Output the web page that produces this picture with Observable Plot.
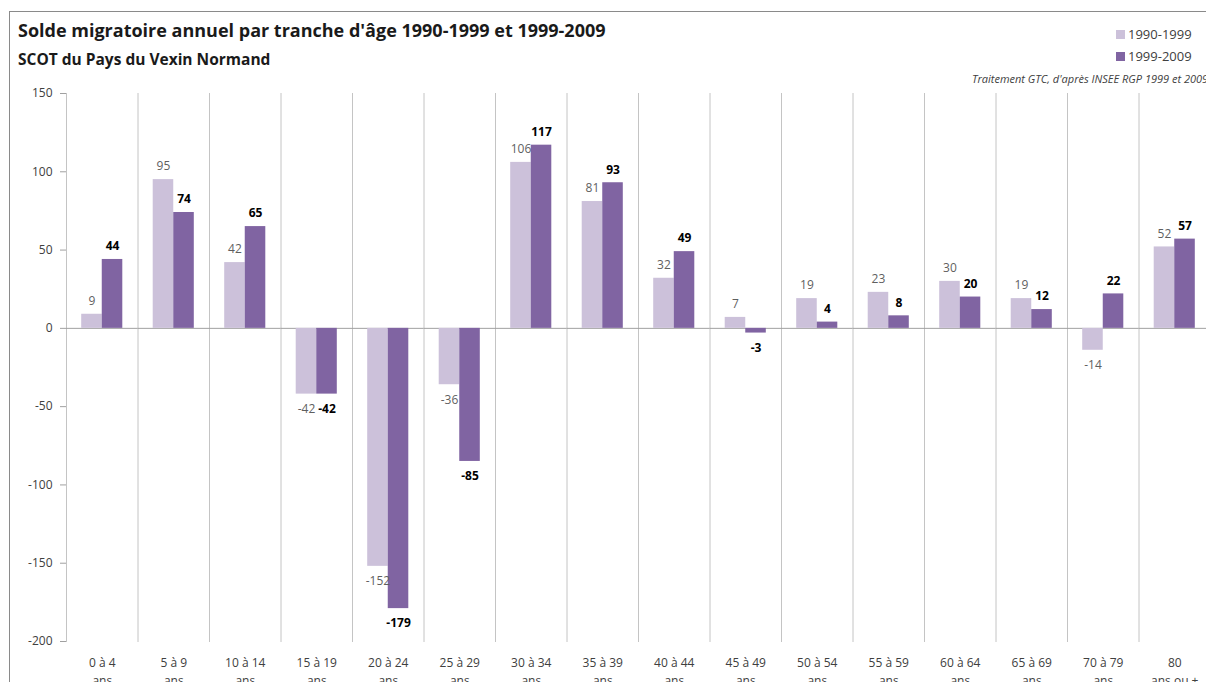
<!DOCTYPE html>
<html>
<head>
<meta charset="utf-8">
<script src="https://cdn.jsdelivr.net/npm/d3@7"></script>
<script src="https://cdn.jsdelivr.net/npm/@observablehq/plot@0.6"></script>
<style>
  html, body { margin: 0; padding: 0; background: #fff; overflow: hidden; }
  #wrap { position: relative; width: 1206px; height: 682px; overflow: hidden; font-family: "Open Sans", "Noto Sans", sans-serif; color: #404040; }
  .frame { position: absolute; left: 9px; top: 11px; width: 1400px; height: 900px; border: 1px solid #8a8a8a; }
  .t { position: absolute; line-height: 1; white-space: nowrap; }
  #title { left: 18px; top: 21px; font-size: 18px; font-weight: bold; color: #1a1a1a; }
  #subtitle { left: 18px; top: 52px; font-size: 15.5px; font-weight: bold; color: #1a1a1a; }
  #source { left: 972px; top: 73px; font-size: 11px; font-style: italic; color: #404040; }
  .sw { position: absolute; width: 9px; height: 9px; }
  .lg { font-size: 13px; color: #404040; }
  #chart { position: absolute; left: 0; top: 85px; width: 1210px; }
  #chart svg { max-width: none !important; }
</style>
</head>
<body>
<div id="wrap">
  <div class="frame"></div>
  <div class="t" id="title">Solde migratoire annuel par tranche d'âge 1990-1999 et 1999-2009</div>
  <div class="t" id="subtitle">SCOT du Pays du Vexin Normand</div>
  <div id="legend"></div>
  <div class="t" id="source">Traitement GTC, d'après INSEE RGP 1999 et 2009</div>
  <div id="chart"></div>
</div>
<script>
const ageLabels = ["0 à 4\nans", "5 à 9\nans", "10 à 14\nans", "15 à 19\nans", "20 à 24\nans", "25 à 29\nans",
  "30 à 34\nans", "35 à 39\nans", "40 à 44\nans", "45 à 49\nans", "50 à 54\nans", "55 à 59\nans",
  "60 à 64\nans", "65 à 69\nans", "70 à 79\nans", "80\nans ou +"];
const periods = ["1990-1999", "1999-2009"];
const values1990 = [9, 95, 42, -42, -152, -36, 106, 81, 32, 7, 19, 23, 30, 19, -14, 52];
const values1999 = [44, 74, 65, -42, -179, -85, 117, 93, 49, -3, 4, 8, 20, 12, 22, 57];
const yTicks = [150, 100, 50, 0, -50, -100, -150, -200];
const colors = ["#CCC1DA", "#8064A2"];

const data = [];
ageLabels.forEach((a, i) => {
  data.push({age: a, period: periods[0], value: values1990[i]});
  data.push({age: a, period: periods[1], value: values1999[i]});
});

// legend
const legend = document.getElementById("legend");
periods.forEach((p, i) => {
  const sw = document.createElement("div");
  sw.className = "sw";
  sw.style.left = "1116px";
  sw.style.top = (30 + i * 22) + "px";
  sw.style.background = colors[i];
  legend.appendChild(sw);
  const tx = document.createElement("div");
  tx.className = "t lg";
  tx.style.left = "1128px";
  tx.style.top = (28 + i * 22) + "px";
  tx.textContent = p;
  legend.appendChild(tx);
});

function labels(period, fill, weight) {
  const sub = data.filter(d => d.period === period);
  const common = {fx: "age", x: "period", y: "value", text: d => String(d.value), fill, fontWeight: weight, fontSize: 12, textAnchor: "middle"};
  return [
    Plot.text(sub.filter(d => d.value >= 0), {...common, dy: -13}),
    Plot.text(sub.filter(d => d.value < 0), {...common, dy: 15})
  ];
}

const chart = Plot.plot({
  width: 1210,
  height: 597,
  marginLeft: 66,
  marginRight: 0,
  marginTop: 8,
  marginBottom: 41,
  style: {fontFamily: "'Open Sans', 'Noto Sans', sans-serif", fontSize: "12px", color: "#404040", background: "transparent", overflow: "visible"},
  fx: {domain: ageLabels, padding: 0, round: false, label: null},
  x: {domain: periods, paddingInner: 0, paddingOuter: 0.74, round: false, axis: null},
  y: {domain: [-200, 150], label: null},
  color: {domain: periods, range: colors},
  marks: [
    Plot.frame({anchor: "left", stroke: "#c4c4c4"}),
    Plot.ruleY([0], {stroke: "#a0a0a0"}),
    Plot.barY(data, {fx: "age", x: "period", y: "value", fill: "period"}),
    Plot.ruleX(ageLabels, {fx: d => d, y1: 0, y2: -3, stroke: "#a0a0a0"}),
    ...labels(periods[0], "#5f5f5f", "normal"),
    ...labels(periods[1], "#000000", "bold"),
    Plot.axisY({ticks: yTicks, tickSize: 6, tickPadding: 8, tickFormat: d => String(d), stroke: "#a0a0a0", fontSize: 12, label: null}),
    Plot.axisFx({anchor: "bottom", tickSize: 0, tickPadding: 13, lineHeight: 1.5, fontSize: 12, label: null})
  ]
});
document.getElementById("chart").appendChild(chart);
</script>
</body>
</html>
